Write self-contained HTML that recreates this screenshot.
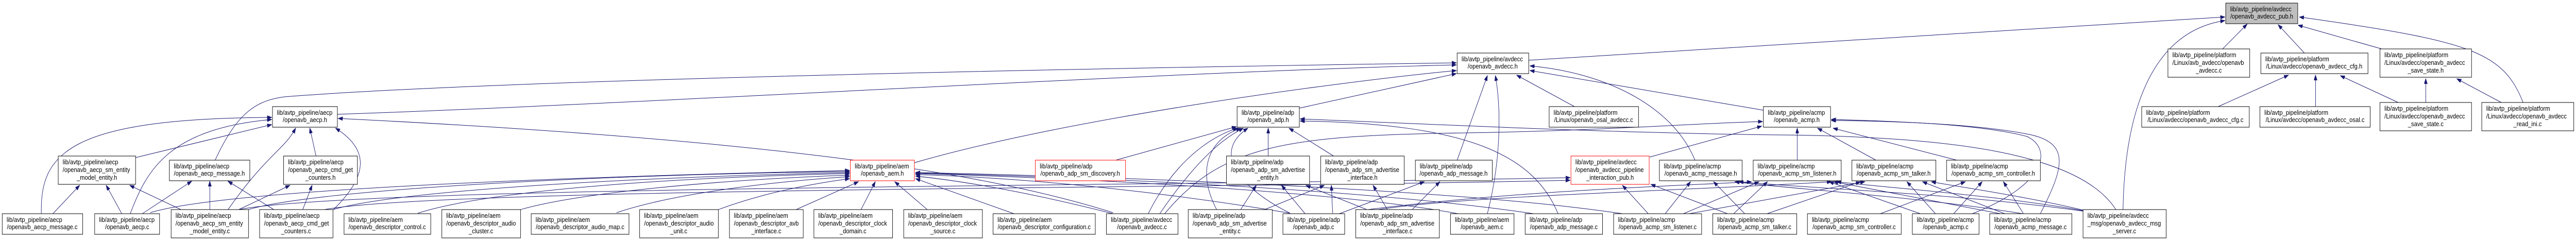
<!DOCTYPE html>
<html><head><meta charset="utf-8"><style>
html,body{margin:0;padding:0;background:#fff;width:100%;height:100%;overflow:hidden;}
svg{display:block;width:100vw;height:100vh;}
text{font-family:"Liberation Sans",Arial,sans-serif;font-size:13px;fill:#000;}
.n{fill:#fff;stroke:#000;stroke-width:1;}
.r{fill:#fff;stroke:#ff0000;stroke-width:1;}
.g{fill:#bfbfbf;stroke:#000;stroke-width:1;}
.e{fill:none;stroke:#191970;stroke-width:1;marker-end:url(#a);}
</style></head><body>
<svg viewBox="0 0 5795 468" preserveAspectRatio="none" xmlns="http://www.w3.org/2000/svg">
<defs><marker id="a" markerUnits="userSpaceOnUse" markerWidth="11" markerHeight="8" refX="10" refY="3.5" orient="auto"><path d="M0,0 L10,3.5 L0,7 z" fill="#191970" stroke="#191970"/></marker></defs>

<g>
<path class="e" d="M3439,117 L5005,33"/>
<path class="e" d="M4776,407 C4780,200 4850,60 5005,40"/>
<path class="e" d="M5000,95 L5055,47"/>
<path class="e" d="M5184,103 L5125,48"/>
<path class="e" d="M5358,95 L5170,49"/>
<path class="e" d="M5676,199 C5630,100 5560,80 5173,33"/>
<path class="e" d="M4990,207 L5148,146"/>
<path class="e" d="M5209,207 L5209,146"/>
<path class="e" d="M5395,199 L5265,147"/>
<path class="e" d="M5457,199 L5457,153"/>
<path class="e" d="M5627,199 L5527,153"/>
<path class="e" d="M3542,207 L3412,146"/>
<path class="e" d="M3278,311 L3346,147"/>
<path class="e" d="M3346,415 C3380,300 3375,200 3364,147"/>
<path class="e" d="M3813,311 C3760,200 3600,140 3442,128"/>
<path class="e" d="M3967,214 L3442,137"/>
<path class="e" d="M759,222 C1500,200 2600,140 3276,126"/>
<path class="e" d="M484,311 C535,215 580,195 640,188 C1200,150 2800,128 3276,122"/>
<path class="e" d="M2057,316 C2400,230 3000,160 3276,137"/>
<path class="e" d="M2923,210 L3276,143"/>
<path class="e" d="M305,306 L611,242"/>
<path class="e" d="M93,415 C90,300 150,230 611,228"/>
<path class="e" d="M293,415 C330,330 380,250 611,232"/>
<path class="e" d="M711,303 L697,249"/>
<path class="e" d="M513,407 C600,300 640,290 665,249"/>
<path class="e" d="M750,407 C830,340 830,290 755,249"/>
<path class="e" d="M2504,413 C2200,330 1700,270 761,230"/>
<path class="e" d="M320,415 L431,352"/>
<path class="e" d="M472,407 L472,352"/>
<path class="e" d="M616,407 L513,352"/>
<path class="e" d="M119,415 L179,360"/>
<path class="e" d="M274,415 L239,360"/>
<path class="e" d="M407,407 L292,360"/>
<path class="e" d="M537,407 L652,360"/>
<path class="e" d="M681,407 L702,360"/>
<path class="e" d="M338,413 C500,370 1200,345 1911,331"/>
<path class="e" d="M559,407 C700,370 1300,340 1911,333"/>
<path class="e" d="M749,407 C900,370 1400,345 1911,335"/>
<path class="e" d="M940,414 C1100,370 1500,345 1911,337"/>
<path class="e" d="M1171,407 C1300,375 1600,350 1911,340"/>
<path class="e" d="M1387,413 C1500,380 1700,355 1911,343"/>
<path class="e" d="M1616,407 C1700,380 1800,360 1911,347"/>
<path class="e" d="M1791,407 L1931,353"/>
<path class="e" d="M1937,407 L1969,353"/>
<path class="e" d="M2086,407 L2013,353"/>
<path class="e" d="M2281,415 L2060,347"/>
<path class="e" d="M2504,415 C2300,370 2150,350 2060,342"/>
<path class="e" d="M2902,414 C2600,370 2300,345 2060,339"/>
<path class="e" d="M3280,415 C3000,370 2400,345 2060,337"/>
<path class="e" d="M3450,415 C3100,370 2500,345 2060,336"/>
<path class="e" d="M3650,415 C3300,370 2600,345 2060,335"/>
<path class="e" d="M538,407 C800,362 2500,363 3532,345"/>
<path class="e" d="M730,407 C1000,364 2800,366 3532,350"/>
<path class="e" d="M3100,407 C3300,380 3800,370 4120,353"/>
<path class="e" d="M3050,410 C3400,370 3800,360 3940,353"/>
<path class="e" d="M2510,311 L2781,246"/>
<path class="e" d="M2853,303 L2853,249"/>
<path class="e" d="M3000,303 L2900,249"/>
<path class="e" d="M2583,415 C2650,300 2740,260 2784,249"/>
<path class="e" d="M2609,415 C2700,300 2760,265 2797,249"/>
<path class="e" d="M2737,407 C2690,330 2720,270 2791,249"/>
<path class="e" d="M2902,414 C2800,370 2720,300 2807,249"/>
<path class="e" d="M4760,407 C4680,300 4400,265 4000,262 C3600,258 3200,240 2925,231"/>
<path class="e" d="M3505,415 C3450,300 3300,240 2925,235"/>
<path class="e" d="M2620,415 C2750,280 2900,263 3300,258 C3600,254 3800,240 3965,236"/>
<path class="e" d="M2791,407 L2826,360"/>
<path class="e" d="M2936,415 L2883,360"/>
<path class="e" d="M3075,407 L2938,360"/>
<path class="e" d="M2845,407 L2979,360"/>
<path class="e" d="M2998,414 L2995,360"/>
<path class="e" d="M3121,407 L3089,360"/>
<path class="e" d="M3177,407 L3239,353"/>
<path class="e" d="M3013,415 L3204,353"/>
<path class="e" d="M3708,415 L3650,360"/>
<path class="e" d="M3886,415 L3714,358"/>
<path class="e" d="M3711,305 L3963,245"/>
<path class="e" d="M3746,415 L3803,353"/>
<path class="e" d="M3925,415 L3855,353"/>
<path class="e" d="M4550,415 C4300,380 4000,365 3903,353"/>
<path class="e" d="M4686,410 C4400,375 4050,365 3912,353"/>
<path class="e" d="M3787,415 L3957,353"/>
<path class="e" d="M3900,415 L3976,353"/>
<path class="e" d="M4320,415 L4115,353"/>
<path class="e" d="M4500,415 L4125,353"/>
<path class="e" d="M4686,409 C4500,380 4250,365 4132,353"/>
<path class="e" d="M3975,415 L4185,353"/>
<path class="e" d="M3800,415 L4195,353"/>
<path class="e" d="M4354,415 L4290,353"/>
<path class="e" d="M4510,415 L4325,353"/>
<path class="e" d="M4686,408 C4550,380 4400,362 4345,353"/>
<path class="e" d="M4230,415 L4421,353"/>
<path class="e" d="M4395,415 L4459,353"/>
<path class="e" d="M4552,415 L4507,353"/>
<path class="e" d="M4043,311 L4043,249"/>
<path class="e" d="M4220,311 L4089,249"/>
<path class="e" d="M4402,311 L4124,249"/>
<path class="e" d="M4437,415 C4600,360 4620,290 4560,265 C4450,240 4250,235 4120,232"/>
<path class="e" d="M4590,415 C4640,330 4660,280 4570,262 C4450,240 4250,235 4120,234"/>
</g>

<g>
<rect class="n" x="613" y="207" width="146" height="40"/><text x="623" y="223">lib/avtp_pipeline/aecp</text><text x="686" y="237" text-anchor="middle">/openavb_aecp.h</text>
<rect class="n" x="131" y="303" width="174" height="55"/><text x="141" y="319">lib/avtp_pipeline/aecp</text><text x="141" y="334">/openavb_aecp_sm_entity</text><text x="218" y="349" text-anchor="middle">_model_entity.h</text>
<rect class="n" x="381" y="311" width="181" height="40"/><text x="391" y="327">lib/avtp_pipeline/aecp</text><text x="471" y="341" text-anchor="middle">/openavb_aecp_message.h</text>
<rect class="n" x="638" y="303" width="166" height="55"/><text x="648" y="319">lib/avtp_pipeline/aecp</text><text x="648" y="334">/openavb_aecp_cmd_get</text><text x="721" y="349" text-anchor="middle">_counters.h</text>

<rect class="n" x="5" y="415" width="181" height="40"/><text x="15" y="431">lib/avtp_pipeline/aecp</text><text x="95" y="445" text-anchor="middle">/openavb_aecp_message.c</text>
<rect class="n" x="213" y="415" width="146" height="40"/><text x="223" y="431">lib/avtp_pipeline/aecp</text><text x="286" y="445" text-anchor="middle">/openavb_aecp.c</text>
<rect class="n" x="385" y="407" width="174" height="55"/><text x="395" y="423">lib/avtp_pipeline/aecp</text><text x="395" y="438">/openavb_aecp_sm_entity</text><text x="472" y="453" text-anchor="middle">_model_entity.c</text>
<rect class="n" x="584" y="407" width="165" height="55"/><text x="594" y="423">lib/avtp_pipeline/aecp</text><text x="594" y="438">/openavb_aecp_cmd_get</text><text x="666" y="453" text-anchor="middle">_counters.c</text>
<rect class="n" x="774" y="415" width="195" height="40"/><text x="784" y="431">lib/avtp_pipeline/aem</text><text x="871" y="445" text-anchor="middle">/openavb_descriptor_control.c</text>
<rect class="n" x="994" y="407" width="177" height="55"/><text x="1004" y="423">lib/avtp_pipeline/aem</text><text x="1004" y="438">/openavb_descriptor_audio</text><text x="1082" y="453" text-anchor="middle">_cluster.c</text>
<rect class="n" x="1195" y="415" width="220" height="40"/><text x="1205" y="431">lib/avtp_pipeline/aem</text><text x="1305" y="445" text-anchor="middle">/openavb_descriptor_audio_map.c</text>
<rect class="n" x="1439" y="407" width="177" height="55"/><text x="1449" y="423">lib/avtp_pipeline/aem</text><text x="1449" y="438">/openavb_descriptor_audio</text><text x="1527" y="453" text-anchor="middle">_unit.c</text>
<rect class="n" x="1641" y="407" width="166" height="55"/><text x="1651" y="423">lib/avtp_pipeline/aem</text><text x="1651" y="438">/openavb_descriptor_avb</text><text x="1724" y="453" text-anchor="middle">_interface.c</text>
<rect class="n" x="1831" y="407" width="177" height="55"/><text x="1841" y="423">lib/avtp_pipeline/aem</text><text x="1841" y="438">/openavb_descriptor_clock</text><text x="1919" y="453" text-anchor="middle">_domain.c</text>
<rect class="n" x="2033" y="407" width="177" height="55"/><text x="2043" y="423">lib/avtp_pipeline/aem</text><text x="2043" y="438">/openavb_descriptor_clock</text><text x="2121" y="453" text-anchor="middle">_source.c</text>
<rect class="n" x="2234" y="415" width="230" height="40"/><text x="2244" y="431">lib/avtp_pipeline/aem</text><text x="2349" y="445" text-anchor="middle">/openavb_descriptor_configuration.c</text>
<rect class="n" x="2489" y="415" width="161" height="40"/><text x="2499" y="431">lib/avtp_pipeline/avdecc</text><text x="2569" y="445" text-anchor="middle">/openavb_avdecc.c</text>
<rect class="n" x="2673" y="407" width="189" height="55"/><text x="2683" y="423">lib/avtp_pipeline/adp</text><text x="2683" y="438">/openavb_adp_sm_advertise</text><text x="2767" y="453" text-anchor="middle">_entity.c</text>
<rect class="n" x="2886" y="415" width="139" height="40"/><text x="2896" y="431">lib/avtp_pipeline/adp</text><text x="2955" y="445" text-anchor="middle">/openavb_adp.c</text>
<rect class="n" x="3050" y="407" width="188" height="55"/><text x="3060" y="423">lib/avtp_pipeline/adp</text><text x="3060" y="438">/openavb_adp_sm_advertise</text><text x="3144" y="453" text-anchor="middle">_interface.c</text>
<rect class="n" x="3263" y="415" width="143" height="40"/><text x="3273" y="431">lib/avtp_pipeline/aem</text><text x="3334" y="445" text-anchor="middle">/openavb_aem.c</text>
<rect class="n" x="3431" y="415" width="174" height="40"/><text x="3441" y="431">lib/avtp_pipeline/adp</text><text x="3518" y="445" text-anchor="middle">/openavb_adp_message.c</text>
<rect class="n" x="3630" y="415" width="198" height="40"/><text x="3640" y="431">lib/avtp_pipeline/acmp</text><text x="3729" y="445" text-anchor="middle">/openavb_acmp_sm_listener.c</text>
<rect class="n" x="3853" y="415" width="189" height="40"/><text x="3863" y="431">lib/avtp_pipeline/acmp</text><text x="3947" y="445" text-anchor="middle">/openavb_acmp_sm_talker.c</text>
<rect class="n" x="4066" y="415" width="211" height="40"/><text x="4076" y="431">lib/avtp_pipeline/acmp</text><text x="4171" y="445" text-anchor="middle">/openavb_acmp_sm_controller.c</text>
<rect class="n" x="4302" y="415" width="150" height="40"/><text x="4312" y="431">lib/avtp_pipeline/acmp</text><text x="4377" y="445" text-anchor="middle">/openavb_acmp.c</text>
<rect class="n" x="4476" y="415" width="185" height="40"/><text x="4486" y="431">lib/avtp_pipeline/acmp</text><text x="4568" y="445" text-anchor="middle">/openavb_acmp_message.c</text>
<rect class="n" x="4686" y="407" width="187" height="55"/><text x="4696" y="423">lib/avtp_pipeline/avdecc</text><text x="4696" y="438">_msg/openavb_avdecc_msg</text><text x="4779" y="453" text-anchor="middle">_server.c</text>

<rect class="r" x="1913" y="311" width="144" height="40"/><text x="1923" y="327">lib/avtp_pipeline/aem</text><text x="1985" y="341" text-anchor="middle">/openavb_aem.h</text>
<rect class="r" x="2329" y="311" width="203" height="40"/><text x="2339" y="327">lib/avtp_pipeline/adp</text><text x="2430" y="341" text-anchor="middle">/openavb_adp_sm_discovery.h</text>
<rect class="n" x="2759" y="303" width="187" height="55"/><text x="2769" y="319">lib/avtp_pipeline/adp</text><text x="2769" y="334">/openavb_adp_sm_advertise</text><text x="2852" y="349" text-anchor="middle">_entity.h</text>
<rect class="n" x="2971" y="303" width="188" height="55"/><text x="2981" y="319">lib/avtp_pipeline/adp</text><text x="2981" y="334">/openavb_adp_sm_advertise</text><text x="3065" y="349" text-anchor="middle">_interface.h</text>
<rect class="n" x="3184" y="311" width="173" height="40"/><text x="3194" y="327">lib/avtp_pipeline/adp</text><text x="3270" y="341" text-anchor="middle">/openavb_adp_message.h</text>
<rect class="r" x="3534" y="303" width="176" height="55"/><text x="3544" y="319">lib/avtp_pipeline/avdecc</text><text x="3544" y="334">/openavb_avdecc_pipeline</text><text x="3622" y="349" text-anchor="middle">_interaction_pub.h</text>
<rect class="n" x="3733" y="311" width="186" height="40"/><text x="3743" y="327">lib/avtp_pipeline/acmp</text><text x="3826" y="341" text-anchor="middle">/openavb_acmp_message.h</text>
<rect class="n" x="3944" y="311" width="198" height="40"/><text x="3954" y="327">lib/avtp_pipeline/acmp</text><text x="4043" y="341" text-anchor="middle">/openavb_acmp_sm_listener.h</text>
<rect class="n" x="4166" y="311" width="189" height="40"/><text x="4176" y="327">lib/avtp_pipeline/acmp</text><text x="4260" y="341" text-anchor="middle">/openavb_acmp_sm_talker.h</text>
<rect class="n" x="4379" y="311" width="211" height="40"/><text x="4389" y="327">lib/avtp_pipeline/acmp</text><text x="4484" y="341" text-anchor="middle">/openavb_acmp_sm_controller.h</text>

<rect class="n" x="2783" y="207" width="140" height="40"/><text x="2793" y="223">lib/avtp_pipeline/adp</text><text x="2853" y="237" text-anchor="middle">/openavb_adp.h</text>
<rect class="n" x="3485" y="207" width="201" height="40"/><text x="3495" y="223">lib/avtp_pipeline/platform</text><text x="3585" y="237" text-anchor="middle">/Linux/openavb_osal_avdecc.c</text>
<rect class="n" x="3967" y="207" width="151" height="40"/><text x="3977" y="223">lib/avtp_pipeline/acmp</text><text x="4042" y="237" text-anchor="middle">/openavb_acmp.h</text>
<rect class="n" x="4818" y="207" width="242" height="40"/><text x="4828" y="223">lib/avtp_pipeline/platform</text><text x="4939" y="237" text-anchor="middle">/Linux/avdecc/openavb_avdecc_cfg.c</text>
<rect class="n" x="5084" y="207" width="248" height="40"/><text x="5094" y="223">lib/avtp_pipeline/platform</text><text x="5208" y="237" text-anchor="middle">/Linux/avdecc/openavb_avdecc_osal.c</text>
<rect class="n" x="5354" y="199" width="206" height="55"/><text x="5364" y="215">lib/avtp_pipeline/platform</text><text x="5364" y="230">/Linux/avdecc/openavb_avdecc</text><text x="5457" y="245" text-anchor="middle">_save_state.c</text>
<rect class="n" x="5583" y="199" width="207" height="55"/><text x="5593" y="215">lib/avtp_pipeline/platform</text><text x="5593" y="230">/Linux/avdecc/openavb_avdecc</text><text x="5686" y="245" text-anchor="middle">_read_ini.c</text>

<rect class="n" x="3278" y="103" width="161" height="40"/><text x="3288" y="119">lib/avtp_pipeline/avdecc</text><text x="3358" y="133" text-anchor="middle">/openavb_avdecc.h</text>
<rect class="n" x="4877" y="95" width="184" height="55"/><text x="4887" y="111">lib/avtp_pipeline/platform</text><text x="4887" y="126">/Linux/avb_avdecc/openavb</text><text x="4969" y="141" text-anchor="middle">_avdecc.c</text>
<rect class="n" x="5086" y="103" width="241" height="40"/><text x="5096" y="119">lib/avtp_pipeline/platform</text><text x="5206" y="133" text-anchor="middle">/Linux/avdecc/openavb_avdecc_cfg.h</text>
<rect class="n" x="5354" y="95" width="206" height="55"/><text x="5364" y="111">lib/avtp_pipeline/platform</text><text x="5364" y="126">/Linux/avdecc/openavb_avdecc</text><text x="5457" y="141" text-anchor="middle">_save_state.h</text>

<rect class="g" x="5007" y="6" width="162" height="40"/><text x="5017" y="22">lib/avtp_pipeline/avdecc</text><text x="5088" y="36" text-anchor="middle">/openavb_avdecc_pub.h</text>
</g>
</svg>
</body></html>
